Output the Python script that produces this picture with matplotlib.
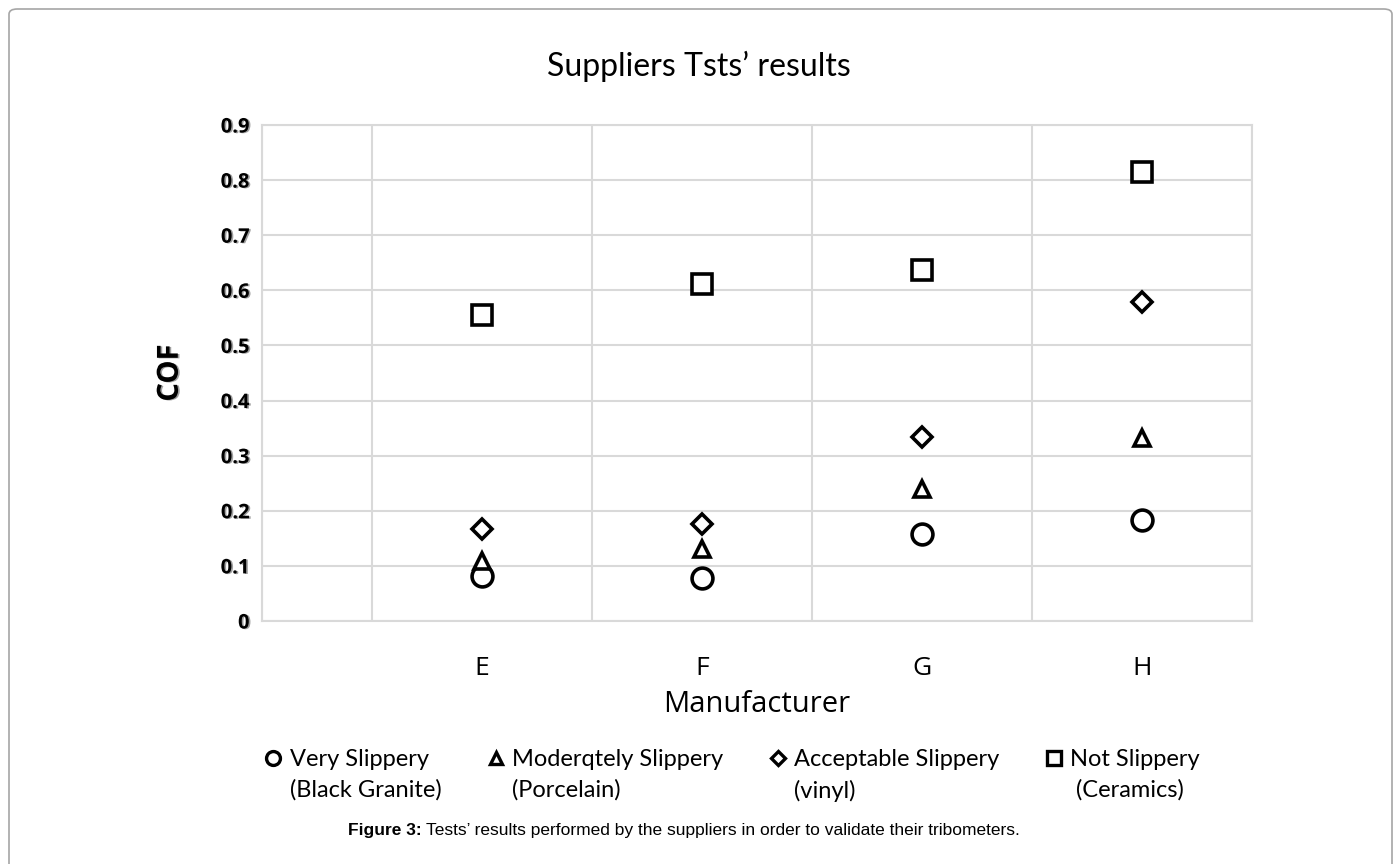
import matplotlib
matplotlib.use("Agg")
import matplotlib.pyplot as plt
from matplotlib.lines import Line2D
from matplotlib.patches import FancyBboxPatch
import matplotlib.patheffects as pe
from matplotlib import font_manager

# ---------------- data ----------------
manufacturers = ["E", "F", "G", "H"]
x_positions = [2, 4, 6, 8]
very_slippery = [0.081, 0.078, 0.157, 0.184]        # Black Granite
moderately_slippery = [0.109, 0.131, 0.240, 0.332]  # Porcelain
acceptable_slippery = [0.167, 0.176, 0.334, 0.578]  # vinyl
not_slippery = [0.556, 0.612, 0.637, 0.815]         # Ceramics
legend_main = ["Very Slippery", "Moderqtely Slippery", "Acceptable Slippery", "Not Slippery"]
legend_sub = ["(Black Granite)", "(Porcelain)", "(vinyl)", " (Ceramics)"]
y_ticks = [0, 0.1, 0.2, 0.3, 0.4, 0.5, 0.6, 0.7, 0.8, 0.9]
y_tick_labels = ["0", "0.1", "0.2", "0.3", "0.4", "0.5", "0.6", "0.7", "0.8", "0.9"]

names = {f.name for f in font_manager.fontManager.ttflist}
title_font = "Liberation Sans Narrow" if "Liberation Sans Narrow" in names else "Lato"
body_font = "Lato"

W, H = 1398, 864
fig = plt.figure(figsize=(W / 100, H / 100), dpi=100)
fig.patch.set_facecolor("white")

# outer rounded frame
frame = FancyBboxPatch((9 / W, -0.05), (1392 - 9) / W, (864 - 9) / H + 0.05,
                       boxstyle="round,pad=0,rounding_size=0.006",
                       transform=fig.transFigure, fill=False,
                       edgecolor="#a6a6a6", linewidth=1.2)
fig.patches.append(frame)

ax = fig.add_axes([262 / W, 1 - 621 / H, (1252 - 262) / W, (621 - 125) / H])
ax.set_xlim(0, 9)
ax.set_ylim(0, 0.9)

grid_c = "#d9d9d9"
ax.set_xticks(range(0, 10), minor=True)
ax.grid(True, which="minor", axis="x", color=grid_c, linewidth=1.5)
ax.set_yticks(y_ticks)
ax.grid(True, which="major", axis="y", color=grid_c, linewidth=1.5)
ax.set_axisbelow(True)
for s in ax.spines.values():
    s.set_color(grid_c)
    s.set_linewidth(1.5)

mew = 2.6
ax.plot(x_positions, very_slippery, ls="none", marker="o", ms=15, mfc="white", mec="black", mew=mew, zorder=3)
ax.plot(x_positions, moderately_slippery, ls="none", marker="^", ms=11.5, mfc="white", mec="black", mew=mew, zorder=3)
ax.plot(x_positions, acceptable_slippery, ls="none", marker="D", ms=10.5, mfc="white", mec="black", mew=mew, zorder=3)
ax.plot(x_positions, not_slippery, ls="none", marker="s", ms=15, mfc="white", mec="black", mew=mew, zorder=3)

ax.set_xticks(x_positions)
ax.set_xticklabels(manufacturers, fontsize=19, fontfamily="Open Sans")
ax.tick_params(axis="x", which="both", length=0, pad=25)
ax.set_yticklabels(y_tick_labels, fontsize=14.5, fontweight="bold", fontfamily="Open Sans")
ax.tick_params(axis="y", length=0, pad=9)
shadow = [pe.SimplePatchShadow(offset=(1.2, -0.4), shadow_rgbFace="#777777", alpha=0.7), pe.Normal()]
for t in ax.get_yticklabels():
    t.set_path_effects(shadow)

ax.set_xlabel("Manufacturer", fontsize=21, fontfamily="Open Sans", labelpad=7)
ax.set_ylabel("COF", fontsize=21, fontweight="bold", fontfamily="Open Sans",
              path_effects=shadow)
ax.yaxis.set_label_coords(-0.078, 0.5)

fig.text(0.5, 1 - 66 / H, "Suppliers Tsts\u2019 results", ha="center", va="center",
         fontsize=23, fontfamily=title_font)

# legend: first line with marker, second line below (column-major fill)
lk = dict(ls="none", mfc="white", mec="black", mew=2.4)
main_handles = [
    Line2D([], [], marker="o", ms=10, **lk),
    Line2D([], [], marker="^", ms=9, **lk),
    Line2D([], [], marker="D", ms=7.5, **lk),
    Line2D([], [], marker="s", ms=10, **lk),
]
handles, labels = [], []
for h, m, s in zip(main_handles, legend_main, legend_sub):
    handles += [h, Line2D([], [], ls="none")]
    labels += [m, s]
leg = fig.legend(handles, labels, ncol=4, loc="upper left",
                 bbox_to_anchor=(265 / W, 1 - 749 / H), frameon=False,
                 prop={"family": body_font, "size": 17},
                 handlelength=0.7, handletextpad=0.35, columnspacing=1.95,
                 labelspacing=0.4, borderpad=0, borderaxespad=0)

# caption
fig.canvas.draw()
r = fig.canvas.get_renderer()
t1 = fig.text(348 / W, 1 - 830 / H, "Figure 3:", ha="left", va="center",
              fontsize=12.5, fontweight="bold", fontfamily="Liberation Sans")
bb = t1.get_window_extent(renderer=r)
fig.text((bb.x1 + 4) / W, 1 - 830 / H,
         "Tests\u2019 results performed by the suppliers in order to validate their tribometers.",
         ha="left", va="center", fontsize=12.5, fontfamily="Liberation Sans")

fig.savefig("out.png", dpi=100, facecolor="white")
